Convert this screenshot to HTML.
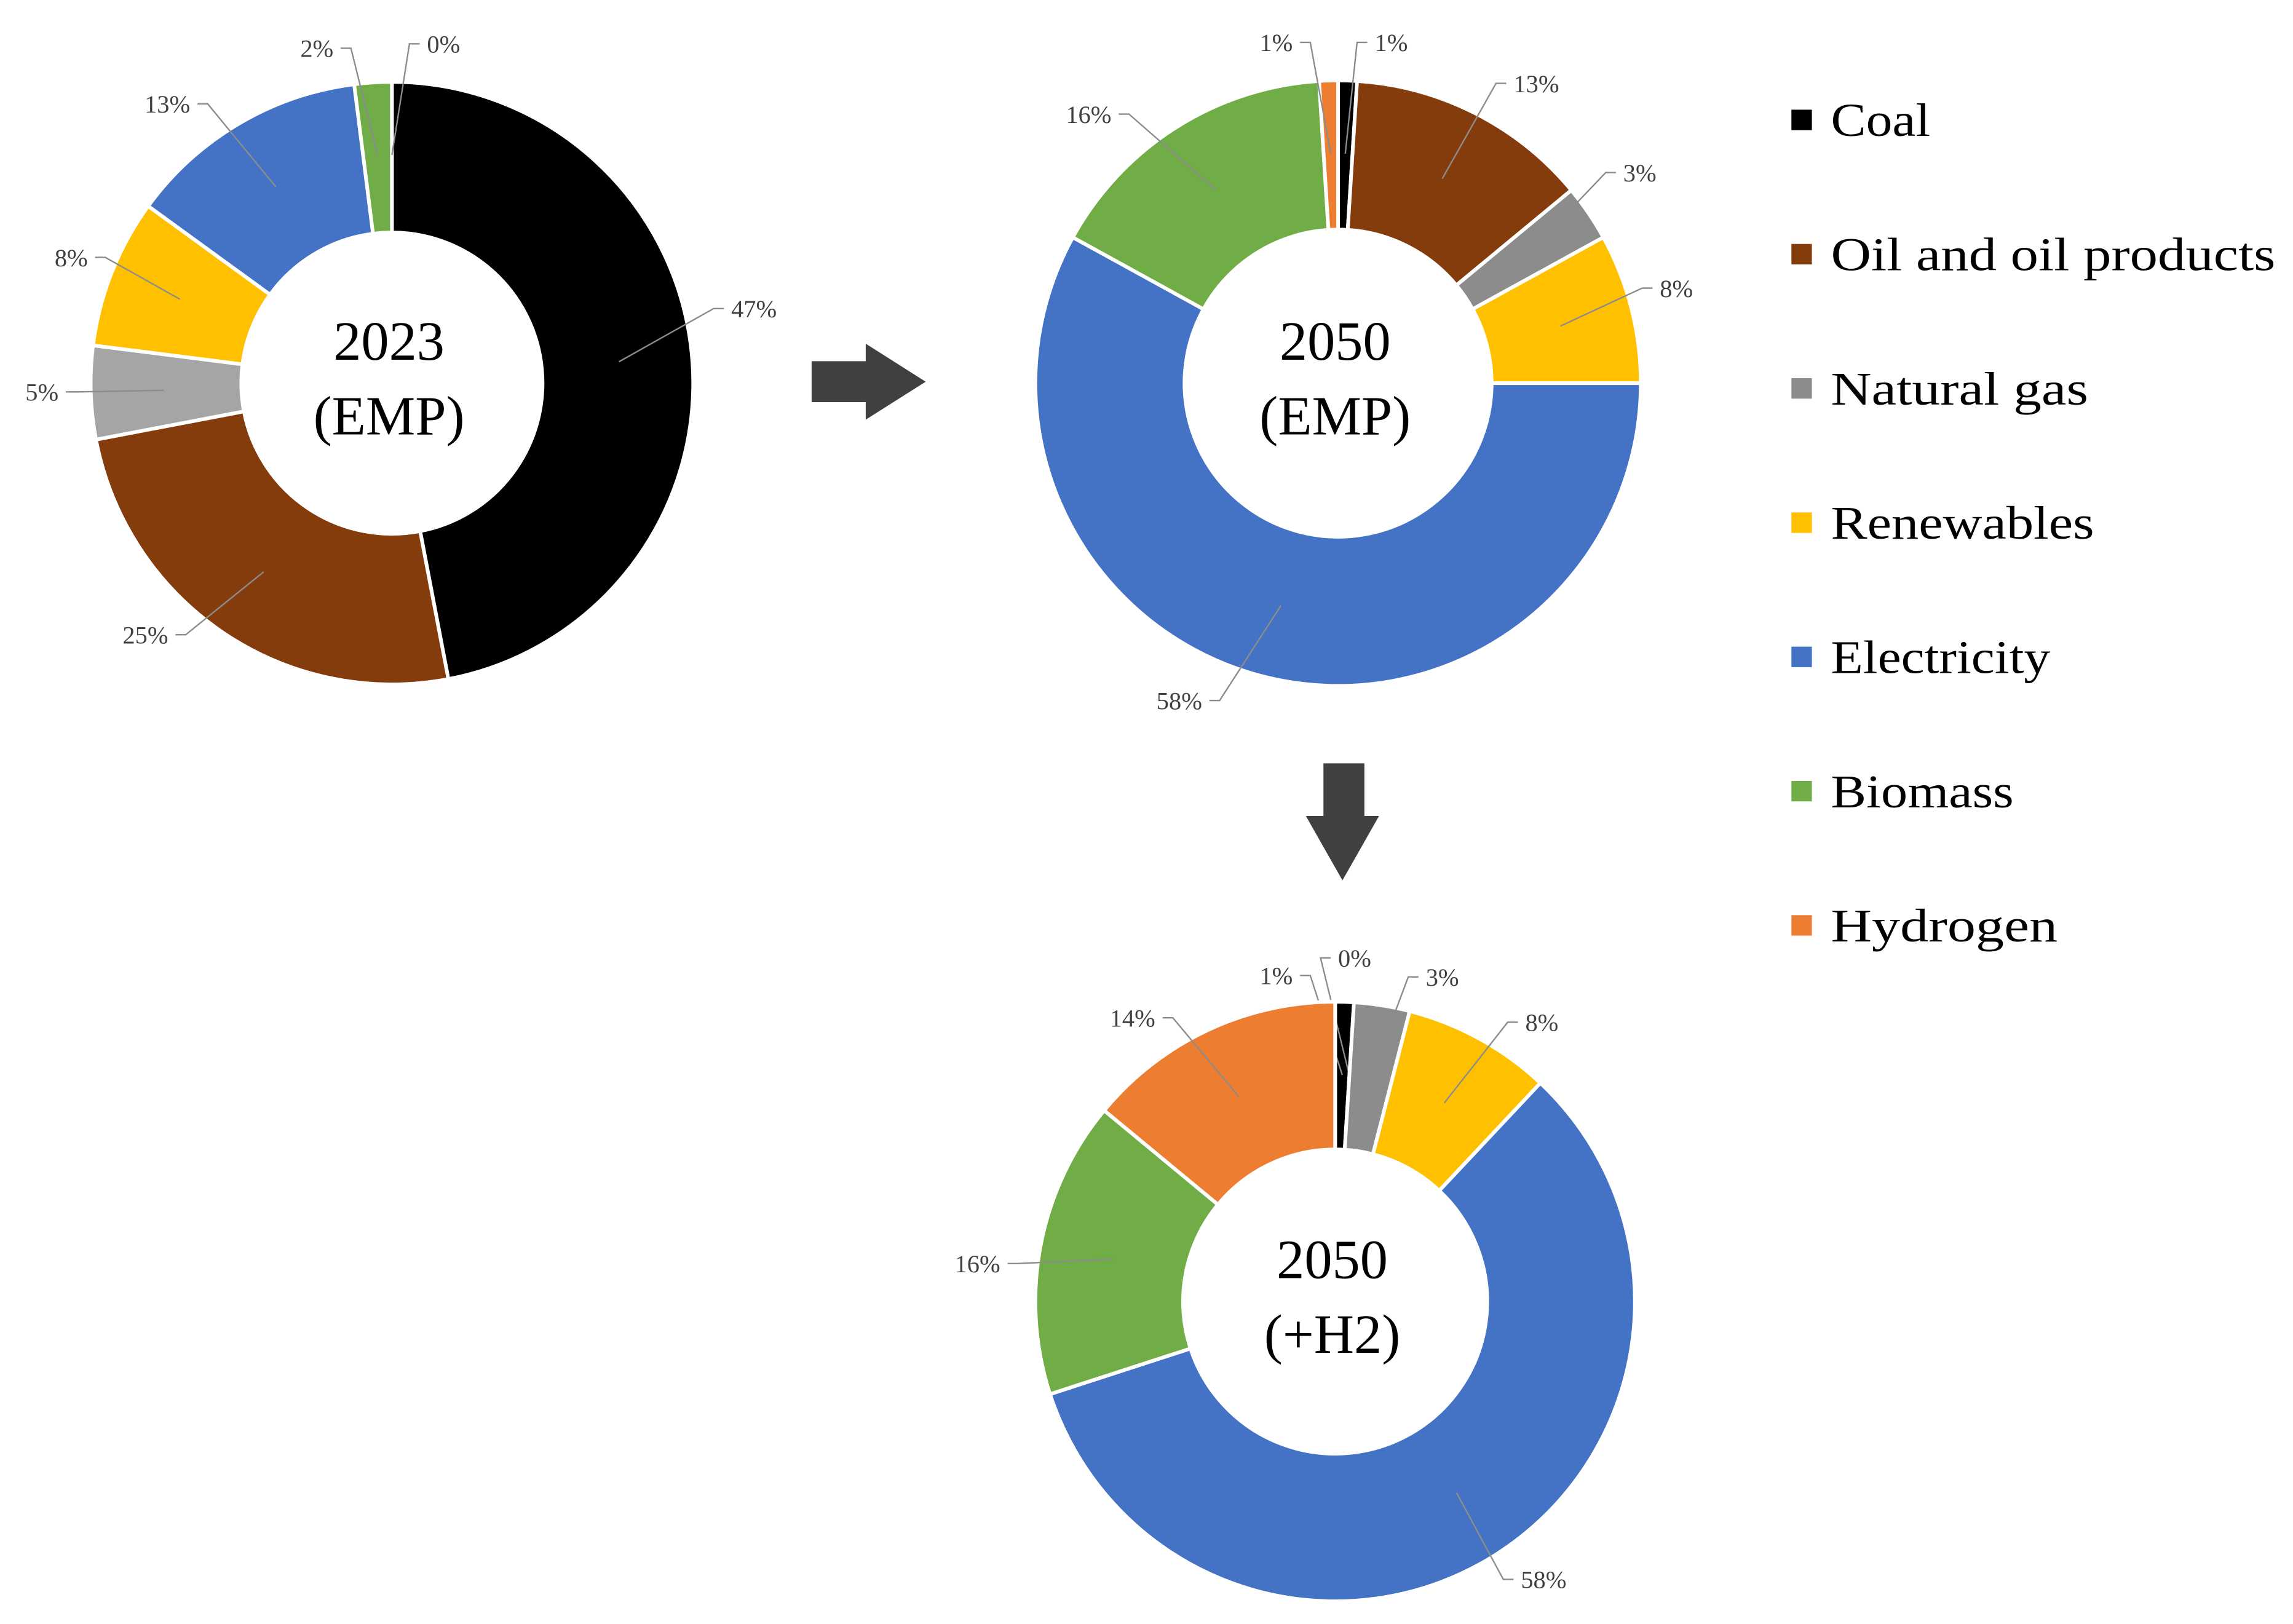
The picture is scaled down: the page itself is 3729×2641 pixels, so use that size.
<!DOCTYPE html>
<html><head><meta charset="utf-8"><style>
html,body{margin:0;padding:0;background:#fff;}
svg{display:block;font-family:"Liberation Serif",serif;}
</style></head><body>
<svg id="chart" width="3729" height="2641" viewBox="0 0 1568 1110.5" xmlns="http://www.w3.org/2000/svg"></svg>
<script>
const categories = ["Coal","Oil and oil products","Natural gas","Renewables","Electricity","Biomass","Hydrogen"];
const colors = ["#000000","#843C0C","#8C8C8C","#FFC000","#4472C4","#70AD47","#ED7D31"];
const values2023 = [47,25,5,8,13,2,0];
const values2050 = [1,13,3,8,58,16,1];
const values2050H2 = [1,0,3,8,58,16,14];
const titles = [["2023","(EMP)"],["2050","(EMP)"],["2050","(+H2)"]];
const legendWidths = [68,304,176,180,150,125,155];

// label layout (text anchor x, baseline y, side) per slice - layout only
const layout2023 = [[500,217,'s'],[115,440,'e'],[40,274,'e'],[60,182,'e'],[130,77,'e'],[228,39,'e'],[292,36,'s']];
const layout2050 = [[940,35,'s'],[1035,63,'s'],[1110,124,'s'],[1135,203,'s'],[822,485,'e'],[760,84,'e'],[884,35,'e']];
const layout2050H2 = [[884,673,'e'],[915,661,'s'],[975,674,'s'],[1043,705,'s'],[1040,1086,'s'],[684,870,'e'],[790,702,'e']];
const layouts=[layout2023,layout2050,layout2050H2];

const NS="http://www.w3.org/2000/svg";
const svg=document.getElementById('chart');
function mk(tag,attrs,parent){const e=document.createElementNS(NS,tag);for(const k in attrs)e.setAttribute(k,attrs[k]);(parent||svg).appendChild(e);return e;}

const donuts=[
 {vals:values2023,cx:268,cy:262,ro:206,ri:103,name:'donut-2023-emp',gas:'#A5A5A5'},
 {vals:values2050,cx:915,cy:262,ro:207,ri:105,name:'donut-2050-emp',gas:'#8C8C8C'},
 {vals:values2050H2,cx:913,cy:890,ro:205,ri:104,name:'donut-2050-h2',gas:'#8C8C8C'}
];
function pt(cx,cy,r,a){return [cx+r*Math.sin(a),cy-r*Math.cos(a)];}
donuts.forEach((d,di)=>{
  const g=mk('g',{});
  
  
  const total=d.vals.reduce((a,b)=>a+b,0);
  let acc=0;
  const lay=layouts[di];
  d.vals.forEach((v,i)=>{
    const a0=acc/total*2*Math.PI; acc+=v; const a1=acc/total*2*Math.PI;
    const mid=(a0+a1)/2;
    if(v>0){
      const large=(a1-a0)>Math.PI?1:0;
      const p1=pt(d.cx,d.cy,d.ro,a0),p2=pt(d.cx,d.cy,d.ro,a1),p3=pt(d.cx,d.cy,d.ri,a1),p4=pt(d.cx,d.cy,d.ri,a0);
      const path=mk('path',{d:`M${p1[0]},${p1[1]}A${d.ro},${d.ro} 0 ${large} 1 ${p2[0]},${p2[1]}L${p3[0]},${p3[1]}A${d.ri},${d.ri} 0 ${large} 0 ${p4[0]},${p4[1]}Z`,fill:i===2?d.gas:colors[i],stroke:'#fff','stroke-width':2.5},g);
      
      
    }
    const L=lay[i];
    const start=L[2]==='s';
    const s=pt(d.cx,d.cy,d.ro-50,mid);
    const ey=L[1]-6;
    const ex=L[0]+(start?-5:5);
    const elx=L[0]+(start?-12:12);
    const ln=mk('polyline',{points:`${s[0]},${s[1]} ${elx},${ey} ${ex},${ey}`,fill:'none',stroke:'#8c8c8c','stroke-width':1},g);
    
    
    const t=mk('text',{x:L[0],y:L[1],'font-size':17,fill:'#404040','text-anchor':start?'start':'end'},g);
    t.textContent=v+'%';
    
    
  });
  titles[di].forEach((s,k)=>{
    const t=mk('text',{x:d.cx-2,y:d.cy-16+k*51,'font-size':38,'text-anchor':'middle',fill:'#000'},g);
    t.textContent=s;
    
    
  });
});
const ar=mk('path',{d:'M555,247 L592,247 L592,235 L633,261 L592,287 L592,275 L555,275 Z',fill:'#404040'});


const ad=mk('path',{d:'M905,522 L933,522 L933,558 L943,558 L918,602 L893,558 L905,558 Z',fill:'#404040'});


categories.forEach((c,i)=>{
  const g=mk('g',{});
  
  
  const y=82+i*91.8;
  mk('rect',{x:1225,y:y-7,width:14,height:14,fill:colors[i]},g);
  const t=mk('text',{x:1252,y:y+11,'font-size':32,fill:'#000',textLength:legendWidths[i],lengthAdjust:'spacingAndGlyphs'},g);
  t.textContent=c;
});
</script>
</body></html>
